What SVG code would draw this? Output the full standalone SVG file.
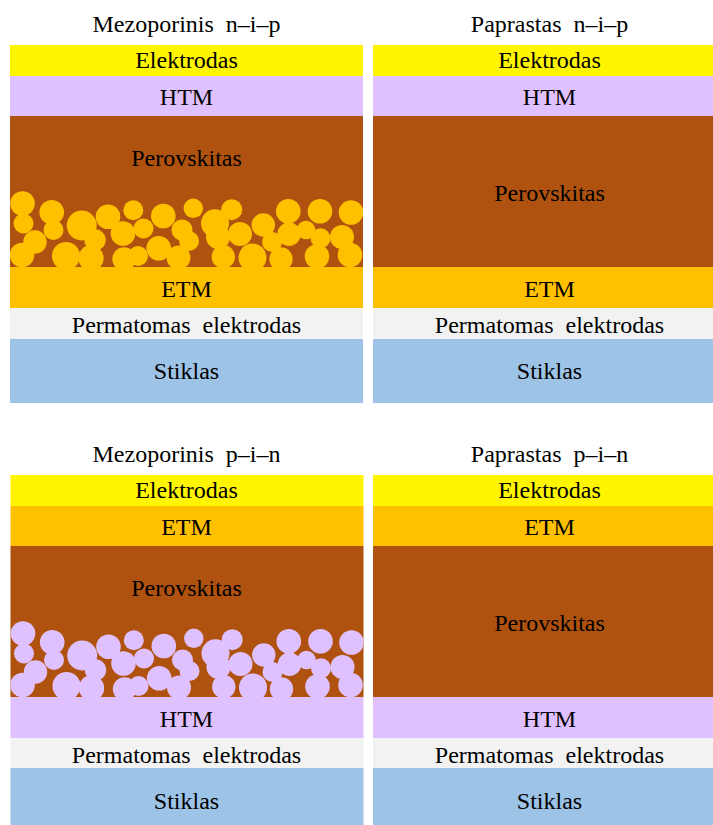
<svg xmlns="http://www.w3.org/2000/svg" xmlns:xlink="http://www.w3.org/1999/xlink" width="713" height="825" viewBox="0 0 713 825">
<style>
text{font-family:"Liberation Serif","Times New Roman",serif;font-size:24px;fill:#000;text-anchor:middle;white-space:pre}
.el{fill:#FFF500}.htm{fill:#E0C1FF}.pv{fill:#B0520F}.etm{fill:#FFC000}.te{fill:#F2F2F2}.gl{fill:#9DC3E6}
</style>
<defs>
<clipPath id="clipL"><rect x="10" y="116" width="353" height="151"/></clipPath>
<g id="np">
<circle cx="22.5" cy="203.5" r="12.3"/><circle cx="23.5" cy="223.5" r="10"/><circle cx="51.7" cy="212.3" r="12.3"/>
<circle cx="53.5" cy="230" r="10"/><circle cx="35" cy="242" r="11.7"/><circle cx="22" cy="255" r="12.3"/>
<circle cx="81.7" cy="225.5" r="15"/><circle cx="66" cy="256" r="14"/><circle cx="95" cy="240" r="10.7"/>
<circle cx="91" cy="258" r="12.7"/><circle cx="108" cy="216.7" r="12.3"/><circle cx="123" cy="233.5" r="12.3"/>
<circle cx="133.3" cy="210.3" r="10"/><circle cx="143.5" cy="228.5" r="10"/><circle cx="124" cy="259" r="11.7"/>
<circle cx="138" cy="256" r="10"/><circle cx="163.3" cy="216" r="12.3"/><circle cx="158.7" cy="248.3" r="12.3"/>
<circle cx="182" cy="230" r="10.5"/><circle cx="189" cy="241" r="10"/><circle cx="178.5" cy="257.5" r="12"/>
<circle cx="193.3" cy="208.3" r="9.7"/><circle cx="231.7" cy="209.7" r="10.5"/><circle cx="215" cy="223.3" r="14"/>
<circle cx="218" cy="237" r="12"/><circle cx="240" cy="234" r="12"/><circle cx="223.3" cy="256.7" r="11.7"/>
<circle cx="252.5" cy="257.5" r="14"/><circle cx="263.3" cy="225" r="11.7"/><circle cx="272" cy="242" r="10"/>
<circle cx="281" cy="259" r="11.7"/><circle cx="288.3" cy="211.2" r="12.3"/><circle cx="289" cy="234.3" r="11.7"/>
<circle cx="306" cy="230" r="9.3"/><circle cx="320" cy="211.2" r="12.3"/><circle cx="320.5" cy="238.3" r="10"/>
<circle cx="317" cy="256.5" r="12.3"/><circle cx="342" cy="237" r="12"/><circle cx="351" cy="212.5" r="12.3"/>
<circle cx="350" cy="255" r="12.3"/>
</g>
</defs>
<rect width="713" height="825" fill="#fff"/>

<g id="meso-nip">
<text x="186.5" y="32">Mezoporinis  n–i–p</text>
<rect class="el" x="10" y="45" width="353" height="31"/><text x="186.5" y="68">Elektrodas</text>
<rect class="htm" x="10" y="76" width="353" height="40"/><text x="186.5" y="105">HTM</text>
<rect class="pv" x="10" y="116" width="353" height="151"/>
<g clip-path="url(#clipL)"><use xlink:href="#np" fill="#FFC000"/></g>
<text x="186.5" y="166">Perovskitas</text>
<rect class="etm" x="10" y="267" width="353" height="41"/><text x="186.5" y="297">ETM</text>
<rect class="te" x="10" y="308" width="353" height="31"/><text x="186.5" y="333">Permatomas  elektrodas</text>
<rect class="gl" x="10" y="339" width="353" height="64"/><text x="186.5" y="379">Stiklas</text>
</g>

<g id="plain-nip">
<text x="549.5" y="32">Paprastas  n–i–p</text>
<rect class="el" x="373" y="45" width="353" height="31"/><text x="549.5" y="68">Elektrodas</text>
<rect class="htm" x="373" y="76" width="353" height="40"/><text x="549.5" y="105">HTM</text>
<rect class="pv" x="373" y="116" width="353" height="151"/><text x="549.5" y="201">Perovskitas</text>
<rect class="etm" x="373" y="267" width="353" height="41"/><text x="549.5" y="297">ETM</text>
<rect class="te" x="373" y="308" width="353" height="31"/><text x="549.5" y="333">Permatomas  elektrodas</text>
<rect class="gl" x="373" y="339" width="353" height="64"/><text x="549.5" y="379">Stiklas</text>
</g>

<g id="meso-pin">
<text x="186.5" y="462">Mezoporinis  p–i–n</text>
<rect class="el" x="10.5" y="475" width="353" height="31"/><text x="186.5" y="498">Elektrodas</text>
<rect class="etm" x="10.5" y="506" width="353" height="40"/><text x="186.5" y="535">ETM</text>
<rect class="pv" x="10.5" y="546" width="353" height="151"/>
<g transform="translate(0.5 430)" clip-path="url(#clipL)"><use xlink:href="#np" fill="#E0C1FF"/></g>
<text x="186.5" y="596">Perovskitas</text>
<rect class="htm" x="10.5" y="697" width="353" height="41"/><text x="186.5" y="727">HTM</text>
<rect class="te" x="10.5" y="738" width="353" height="30"/><text x="186.5" y="763">Permatomas  elektrodas</text>
<rect class="gl" x="10.5" y="768" width="353" height="57"/><text x="186.5" y="809">Stiklas</text>
</g>

<g id="plain-pin">
<text x="549.5" y="462">Paprastas  p–i–n</text>
<rect class="el" x="373" y="475" width="353" height="31"/><text x="549.5" y="498">Elektrodas</text>
<rect class="etm" x="373" y="506" width="353" height="40"/><text x="549.5" y="535">ETM</text>
<rect class="pv" x="373" y="546" width="353" height="151"/><text x="549.5" y="631">Perovskitas</text>
<rect class="htm" x="373" y="697" width="353" height="41"/><text x="549.5" y="727">HTM</text>
<rect class="te" x="373" y="738" width="353" height="30"/><text x="549.5" y="763">Permatomas  elektrodas</text>
<rect class="gl" x="373" y="768" width="353" height="57"/><text x="549.5" y="809">Stiklas</text>
</g>

<g id="connectors"/>
</svg>
